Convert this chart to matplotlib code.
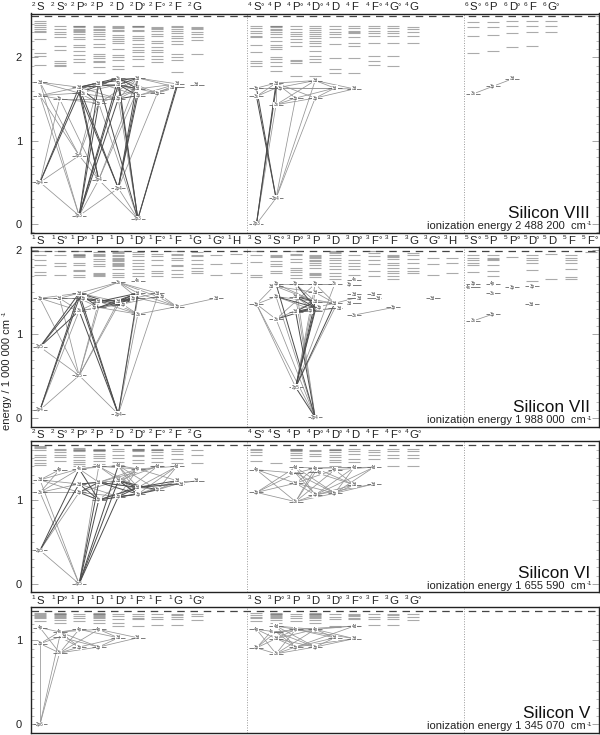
import matplotlib
matplotlib.use("Agg")
import matplotlib.pyplot as plt
from matplotlib.ticker import MultipleLocator

plt.rcParams['font.family'] = ['Liberation Sans', 'DejaVu Sans']

W, H = 600, 735

# Silicon VIII
terms_8 = ["2S", "2So", "2Po", "2P", "2D", "2Do", "2Fo", "2F", "2G",
           "4So", "4P", "4Po", "4Do", "4D", "4F", "4Fo", "4Go", "4G",
           "6So", "6P", "6Do", "6F", "6Go"]
cols_8 = [0, 1, 2, 3, 4, 5, 6, 7, 8, 11, 12, 13, 14, 15, 16, 17, 18, 19, 22, 23, 24, 25, 26]
levels_8 = [
    [2.43, 2.41, 2.39, 2.36, 2.34, 2.32, 2.30, 2.22, 2.05, 2.02, 1.91],
    [2.37, 2.34, 2.30, 2.28, 2.24, 2.14, 2.09, 1.96, 1.93, 1.91, 1.89],
    [2.38, 2.37, 2.36, 2.34, 2.33, 2.31, 2.30, 2.28, 2.24, 2.22, 2.15, 2.12, 2.07, 2.03, 1.98, 1.94, 1.81],
    [2.38, 2.36, 2.34, 2.33, 2.30, 2.28, 2.25, 2.22, 2.16, 2.12, 2.04, 2.01, 1.99, 1.96, 1.94, 1.88, 1.81],
    [2.37, 2.36, 2.35, 2.33, 2.31, 2.27, 2.24, 2.22, 2.19, 2.17, 2.10, 2.03, 2.00, 1.97, 1.89, 1.86],
    [2.38, 2.37, 2.36, 2.33, 2.31, 2.26, 2.23, 2.21, 2.16, 2.12, 2.09, 2.06, 2.02, 1.98, 1.90],
    [2.36, 2.35, 2.34, 2.31, 2.28, 2.26, 2.20, 2.17, 2.12, 2.09, 2.06, 2.02, 1.98, 1.94],
    [2.38, 2.36, 2.34, 2.31, 2.29, 2.25, 2.23, 2.19, 2.16, 2.04, 2.00, 1.97, 1.82],
    [2.36, 2.35, 2.34, 2.30, 2.28, 2.24, 2.21, 2.04],
    [2.37, 2.35, 2.31, 2.29, 2.26, 2.24, 2.15, 2.06, 1.96, 1.93, 1.89],
    [2.38, 2.37, 2.36, 2.34, 2.33, 2.30, 2.28, 2.24, 2.20, 2.15, 2.12, 2.10, 2.00, 1.98, 1.94, 1.89, 1.84],
    [2.38, 2.34, 2.30, 2.28, 2.25, 2.22, 2.18, 2.14, 1.97, 1.95, 1.93, 1.78],
    [2.38, 2.35, 2.33, 2.30, 2.28, 2.25, 2.23, 2.20, 2.17, 2.14, 2.08, 2.01, 1.98, 1.94, 1.78],
    [2.37, 2.34, 2.30, 2.28, 2.24, 2.16, 1.99, 1.86, 1.81],
    [2.38, 2.35, 2.31, 2.30, 2.29, 2.24, 2.17, 2.14, 1.99, 1.81],
    [2.38, 2.35, 2.32, 2.29, 2.26, 2.17, 2.01, 1.96, 1.91],
    [2.38, 2.35, 2.32, 2.29, 2.26, 2.17, 2.01, 1.90],
    [2.36, 2.34, 2.30, 2.26, 2.17],
    [2.42, 2.36, 2.26, 2.05],
    [2.42, 2.36, 2.27, 2.08],
    [2.43, 2.38, 2.29, 2.12],
    [2.44, 2.38, 2.30, 2.14],
    [2.44, 2.38, 2.30],
]
nodes_8 = [
    (0, 1.70, "3d"), (0, 1.54, "3s"), (0, 0.50, "2p4"), (1, 1.50, "3p"),
    (2, 1.64, "3d"), (2, 1.57, "3s"), (2, 0.82, "2p5"), (2, 0.10, "2p3"),
    (3, 1.69, "3d"), (3, 1.45, "3p"), (3, 0.53, "2p4"),
    (4, 1.75, "3s"), (4, 1.67, "3d"), (4, 1.50, "3p"), (4, 0.43, "2p4"),
    (5, 1.75, "3d"), (5, 1.62, "3d"), (5, 1.54, "3p"), (5, 0.06, "2p3"),
    (6, 1.57, "3p"), (7, 1.68, "3d"), (7, 1.64, "3d"), (8, 1.67, "3d"),
    (11, 1.63, "3p"), (11, 1.53, "3s"), (11, 0.00, "2p3"),
    (12, 1.69, "3d"), (12, 1.63, "3p"), (12, 1.43, "3s"), (12, 0.31, "2p4"),
    (13, 1.51, "3p"), (14, 1.72, "3d"), (14, 1.51, "3p"), (15, 1.63, "3d"), (16, 1.62, "3d"),
    (22, 1.56, "3s"), (23, 1.65, "3p"), (24, 1.74, "3d"),
]
links_8 = [
    (7, 2), (7, 10), (7, 14), (7, 0), (7, 1), (18, 10), (18, 14), (18, 9), (18, 13),
    (6, 2), (6, 10), (6, 0), (6, 1), (6, 8), (6, 9), (2, 3), (10, 3), (10, 15), (10, 16), (14, 19),
    (0, 4), (0, 5), (1, 4), (1, 5), (1, 3), (3, 9), (3, 13), (4, 13), (5, 8), (5, 9), (5, 12), (5, 13),
    (8, 16), (8, 17), (9, 16), (9, 15), (11, 15), (11, 17), (11, 19), (12, 19), (13, 16), (13, 15),
    (16, 20), (17, 20), (17, 21), (19, 20), (19, 21), (15, 20), (15, 21),
    (23, 26), (23, 27), (24, 26), (24, 27), (26, 30), (26, 31), (26, 32), (27, 31), (27, 33),
    (28, 30), (28, 32), (28, 31), (28, 26), (29, 30), (29, 31), (29, 32), (25, 28), (25, 29),
    (31, 33), (31, 34), (32, 33), (32, 34), (27, 34), (30, 33),
    (35, 36), (36, 37),
]
strong_8 = [
    (7, 8), (7, 9), (7, 11), (7, 12), (7, 13), (18, 8), (18, 12), (18, 20), (18, 21), (18, 11),
    (2, 4), (2, 5), (10, 4), (10, 5), (14, 4), (14, 5), (14, 15), (14, 16), (14, 17),
    (4, 8), (4, 9), (4, 11), (4, 12), (5, 11), (8, 15), (11, 16), (12, 15), (12, 16), (12, 17), (13, 17),
    (25, 26), (25, 27), (29, 23), (29, 24),
]

# Silicon VII
terms_7 = ["1S", "1So", "1Po", "1P", "1D", "1Do", "1Fo", "1F", "1G", "1Go", "1H",
           "3S", "3So", "3Po", "3P", "3D", "3Do", "3Fo", "3F", "3G", "3Go", "3H",
           "5So", "5P", "5Po", "5Do", "5D", "5F", "5Fo"]
cols_7 = list(range(29))
levels_7 = [
    [1.99, 1.95, 1.89, 1.82, 1.74, 1.71],
    [1.99, 1.95, 1.85, 1.81, 1.71],
    [1.99, 1.96, 1.95, 1.94, 1.93, 1.92, 1.85, 1.83, 1.77, 1.75, 1.71, 1.68],
    [1.98, 1.96, 1.95, 1.93, 1.90, 1.87, 1.84, 1.81, 1.73, 1.72, 1.71, 1.69],
    [1.99, 1.98, 1.97, 1.95, 1.93, 1.91, 1.90, 1.88, 1.87, 1.85, 1.84, 1.82, 1.81, 1.78, 1.73, 1.71, 1.68],
    [1.98, 1.96, 1.93, 1.89, 1.85, 1.81, 1.78, 1.73, 1.70],
    [1.96, 1.93, 1.89, 1.82, 1.75, 1.73, 1.70],
    [1.99, 1.96, 1.94, 1.91, 1.88, 1.83, 1.81, 1.77, 1.72, 1.68],
    [1.98, 1.95, 1.93, 1.88, 1.84, 1.79, 1.75, 1.73],
    [1.95, 1.84, 1.71],
    [1.96, 1.85, 1.73],
    [1.99, 1.94, 1.86, 1.71, 1.68],
    [1.94, 1.93, 1.92, 1.87, 1.84, 1.81, 1.75, 1.73],
    [1.99, 1.96, 1.94, 1.90, 1.86, 1.79, 1.77, 1.74, 1.71, 1.67],
    [1.94, 1.93, 1.92, 1.91, 1.88, 1.87, 1.85, 1.82, 1.79, 1.73, 1.72, 1.71, 1.68],
    [1.99, 1.98, 1.97, 1.94, 1.91, 1.88, 1.85, 1.81, 1.78, 1.73, 1.70, 1.66],
    [1.94, 1.89, 1.85, 1.81, 1.78, 1.71],
    [1.99, 1.97, 1.93, 1.89, 1.84, 1.75, 1.70],
    [1.94, 1.93, 1.92, 1.90, 1.85, 1.82, 1.79, 1.76, 1.73, 1.69, 1.66],
    [1.97, 1.94, 1.90, 1.85, 1.79, 1.76, 1.73],
    [1.91, 1.84, 1.71],
    [1.91, 1.85, 1.73],
    [1.94, 1.91, 1.88, 1.85, 1.83, 1.74],
    [1.94, 1.91, 1.90, 1.88, 1.83, 1.76, 1.69],
    [1.92],
    [1.94, 1.91, 1.88, 1.85, 1.77, 1.64],
    [1.96, 1.66],
    [1.94, 1.91, 1.88, 1.85, 1.78, 1.68, 1.66],
    [1.98],
]
nodes_7 = [
    (0, 1.43, "3p"), (0, 0.85, "2p5"), (0, 0.10, "2p4"), (1, 1.43, "3d"),
    (2, 1.49, "3d"), (2, 1.43, "3p"), (2, 1.28, "3s"), (2, 0.51, "2p5"),
    (3, 1.39, "3d"), (3, 1.32, "3p"),
    (4, 1.62, "3s"), (4, 1.39, "3d"), (4, 1.35, "3p"), (4, 0.05, "2p4"),
    (5, 1.64, "4s"), (5, 1.49, "3d"), (5, 1.43, "3p"), (5, 1.24, "3s"),
    (6, 1.49, "3d"), (6, 1.45, "3p"), (7, 1.33, "3p"), (9, 1.43, "3d"),
    (11, 1.36, "3p"), (12, 1.60, "3p"), (12, 1.57, "3d"), (12, 1.45, "3p"), (12, 1.18, "3s"),
    (13, 1.60, "3p"), (13, 1.45, "3d"), (13, 1.27, "3d"), (13, 0.37, "2p5"),
    (14, 1.60, "3p"), (14, 1.50, "3d"), (14, 1.39, "3d"), (14, 1.32, "3p"), (14, 1.28, "3p"), (14, 0.01, "2p4"),
    (15, 1.60, "3s"), (15, 1.37, "3d"), (15, 1.31, "3d"),
    (16, 1.65, "4s"), (16, 1.59, "3p"), (16, 1.48, "3d"), (16, 1.43, "3d"), (16, 1.37, "3d"), (16, 1.23, "3s"),
    (17, 1.48, "3d"), (17, 1.43, "3d"), (18, 1.32, "3p"), (20, 1.43, "3d"),
    (22, 1.60, "3p"), (22, 1.56, "4s"), (22, 1.16, "3s"),
    (23, 1.60, "4p"), (23, 1.49, "3s"), (23, 1.24, "3p"), (24, 1.56, "3p"),
    (25, 1.57, "3p"), (25, 1.36, "3d"),
]
links_7 = [
    (2, 7), (2, 6), (1, 7), (0, 7), (0, 4), (0, 5), (0, 6), (7, 3), (7, 8), (7, 9), (7, 11), (7, 12), (7, 13),
    (13, 16), (13, 17), (13, 19), (3, 4), (3, 5), (3, 6), (4, 8), (4, 10), (4, 11), (5, 9), (5, 10), (5, 12),
    (6, 8), (6, 9), (6, 12), (8, 17), (9, 17), (10, 15), (10, 16), (10, 18), (10, 19), (11, 17), (11, 18),
    (12, 17), (12, 19), (18, 20), (19, 20), (15, 20), (16, 20), (17, 20), (20, 21),
    (36, 22), (36, 25), (36, 26), (36, 27), (36, 28), (30, 22), (30, 31), (30, 32), (30, 37), (30, 39),
    (22, 26), (22, 25), (22, 23), (26, 31), (26, 33), (23, 31), (23, 33), (24, 32), (24, 33), (25, 33),
    (25, 35), (27, 33), (27, 37), (28, 35), (28, 38), (29, 38), (29, 39), (31, 37), (31, 38), (32, 38),
    (33, 38), (38, 43), (39, 35), (45, 48), (52, 55),
]
strong_7 = [
    (2, 4), (2, 5), (1, 4), (1, 5), (1, 6), (13, 4), (13, 5), (13, 6), (13, 15), (4, 9), (4, 12),
    (5, 8), (5, 11), (8, 15), (8, 16), (9, 15), (9, 16), (11, 15), (11, 16), (12, 15), (12, 16),
    (36, 23), (36, 29), (36, 30), (30, 33), (30, 34), (30, 35), (30, 38), (26, 34), (25, 34),
    (27, 34), (28, 33), (28, 34), (29, 33), (29, 34), (29, 35),
]

# Silicon VI
terms_6 = ["2S", "2So", "2Po", "2P", "2D", "2Do", "2Fo", "2F", "2G",
           "4So", "4S", "4P", "4Po", "4Do", "4D", "4F", "4Fo", "4Go"]
cols_6 = [0, 1, 2, 3, 4, 5, 6, 7, 8, 11, 12, 13, 14, 15, 16, 17, 18, 19]
levels_6 = [
    [1.64, 1.63, 1.62, 1.60, 1.54, 1.51, 1.48, 1.44, 1.42],
    [1.61, 1.59, 1.57, 1.54, 1.51, 1.47],
    [1.62, 1.61, 1.60, 1.59, 1.58, 1.54, 1.51, 1.48, 1.45, 1.43, 1.41],
    [1.61, 1.60, 1.595, 1.59, 1.58, 1.55, 1.52, 1.50, 1.46, 1.43],
    [1.61, 1.58, 1.54, 1.50, 1.45, 1.42],
    [1.61, 1.605, 1.60, 1.59, 1.58, 1.54, 1.52, 1.48, 1.44],
    [1.61, 1.60, 1.59, 1.57, 1.54, 1.50, 1.45, 1.41],
    [1.61, 1.58, 1.55, 1.49, 1.44],
    [1.59, 1.54, 1.44],
    [1.61, 1.59, 1.57, 1.54, 1.47],
    [1.44],
    [1.61, 1.605, 1.60, 1.59, 1.58, 1.56, 1.53, 1.50, 1.46],
    [1.60, 1.58, 1.55, 1.52, 1.47],
    [1.61, 1.60, 1.59, 1.57, 1.54, 1.51, 1.48, 1.45, 1.41],
    [1.61, 1.58, 1.55, 1.49, 1.45],
    [1.59, 1.57, 1.54, 1.49],
    [1.61, 1.58, 1.54, 1.50, 1.41],
    [1.61, 1.58, 1.54, 1.50, 1.41],
]
nodes_6 = [
    (0, 1.24, "3d"), (0, 1.09, "3s"), (0, 0.40, "2p5"), (1, 1.36, "4p"),
    (2, 1.37, "4s"), (2, 1.19, "3d"), (2, 1.09, "3p"), (2, 0.00, "2p5"),
    (3, 1.40, "4d"), (3, 1.21, "3d"), (3, 1.00, "3p"),
    (4, 1.41, "4d"), (4, 1.23, "3d"), (4, 1.04, "3p"),
    (5, 1.37, "4p"), (5, 1.15, "3d"), (5, 1.07, "3p"),
    (6, 1.40, "4d"), (6, 1.12, "3p"),
    (7, 1.40, "4d"), (7, 1.23, "3d"), (7, 1.19, "3d"), (8, 1.23, "3d"),
    (11, 1.36, "4p"), (11, 1.09, "3p"),
    (13, 1.39, "4d"), (13, 1.32, "4s"), (13, 1.20, "3d"), (13, 0.98, "3s"),
    (14, 1.38, "4p"), (14, 1.33, "4p"), (14, 1.06, "3p"),
    (15, 1.36, "4p"), (15, 1.08, "3p"),
    (16, 1.39, "4d"), (16, 1.18, "3d"), (17, 1.39, "4d"), (17, 1.19, "3d"),
]
links_6 = [
    (7, 0), (7, 1), (7, 2), (7, 8), (2, 6), (0, 5), (0, 6), (1, 5), (1, 6), (0, 4), (1, 4), (3, 0), (3, 1),
    (4, 8), (4, 9), (4, 11), (5, 12), (5, 13), (6, 12), (6, 13), (8, 14), (8, 15), (8, 16), (9, 14), (9, 18),
    (10, 14), (10, 15), (10, 16), (11, 14), (11, 15), (11, 16), (11, 18), (12, 14), (13, 14),
    (14, 19), (14, 20), (15, 19), (15, 21), (16, 19), (16, 20), (16, 21), (17, 9), (17, 12), (17, 13), (18, 19),
    (18, 20), (18, 21), (20, 22), (21, 22),
    (23, 28), (23, 27), (24, 26), (24, 25), (24, 27), (24, 28), (23, 26),
    (28, 29), (28, 31), (28, 32), (28, 33), (28, 30), (27, 31), (27, 33), (27, 29), (27, 32),
    (26, 29), (26, 31), (26, 33), (25, 31), (25, 33), (25, 29), (29, 34), (29, 35), (29, 36),
    (31, 34), (31, 35), (31, 36), (33, 34), (33, 35), (33, 36), (33, 37), (32, 35), (32, 36), (31, 37), (30, 35),
]
strong_6 = [
    (2, 4), (2, 5), (7, 9), (7, 10), (7, 11), (7, 12), (7, 13), (5, 9), (5, 10), (6, 9), (6, 10),
    (4, 10), (9, 15), (9, 16), (10, 15), (10, 16), (12, 15), (12, 16), (13, 15), (13, 16),
    (15, 20), (15, 21), (16, 18), (12, 18),
]

# Silicon V
terms_5 = ["1S", "1Po", "1P", "1D", "1Do", "1Fo", "1F", "1G", "1Go",
           "3S", "3Po", "3P", "3D", "3Do", "3Fo", "3F", "3G", "3Go"]
cols_5 = [0, 1, 2, 3, 4, 5, 6, 7, 8, 11, 12, 13, 14, 15, 16, 17, 18, 19]
levels_5 = [
    [1.32, 1.31, 1.30, 1.29, 1.28, 1.26, 1.23],
    [1.32, 1.315, 1.31, 1.30, 1.29, 1.28, 1.26, 1.24, 1.21],
    [1.31, 1.29, 1.26, 1.23],
    [1.32, 1.315, 1.31, 1.30, 1.29, 1.28, 1.26, 1.24, 1.21],
    [1.31, 1.29, 1.25, 1.21, 1.17],
    [1.31, 1.29, 1.27, 1.25, 1.17],
    [1.31, 1.28, 1.25, 1.18],
    [1.31, 1.30, 1.28, 1.25, 1.18],
    [1.31, 1.29, 1.24],
    [1.32, 1.30, 1.28, 1.26, 1.23],
    [1.32, 1.315, 1.31, 1.30, 1.29, 1.28, 1.26, 1.24, 1.21],
    [1.31, 1.29, 1.26, 1.23],
    [1.32, 1.315, 1.31, 1.30, 1.29, 1.28, 1.26, 1.24, 1.21],
    [1.31, 1.28, 1.25, 1.17, 1.16],
    [1.31, 1.30, 1.29, 1.27, 1.25, 1.17],
    [1.31, 1.28, 1.25, 1.18],
    [1.31, 1.30, 1.28, 1.25, 1.18],
    [1.31, 1.28, 1.24],
]
nodes_5 = [
    (0, 1.15, "4p"), (0, 0.96, "3p"), (0, 0.00, "2p6"),
    (1, 1.10, "4s"), (1, 1.04, "3d"), (1, 0.85, "3s"),
    (2, 1.13, "4p"), (2, 0.92, "3p"), (3, 1.13, "4p"), (3, 0.92, "3p"),
    (4, 1.03, "3d"), (5, 1.03, "3d"),
    (11, 1.13, "4p"), (11, 0.91, "3p"),
    (12, 1.17, "4d"), (12, 1.10, "4s"), (12, 1.02, "3d"), (12, 0.84, "3s"),
    (13, 1.13, "4p"), (13, 0.92, "3p"), (14, 1.13, "4p"), (14, 0.92, "3p"),
    (15, 1.03, "3d"), (16, 1.17, "4d"), (16, 1.02, "3d"),
]
links_5 = [
    (2, 4), (2, 5), (2, 1), (0, 3), (0, 5), (1, 4), (1, 5), (1, 3),
    (3, 6), (3, 7), (3, 8), (3, 9), (4, 7), (4, 9), (5, 6), (5, 7), (5, 8), (5, 9),
    (7, 10), (9, 10), (9, 11), (8, 10), (8, 11), (6, 10),
    (12, 15), (12, 16), (12, 17), (13, 14), (13, 15), (13, 16), (13, 17),
    (17, 18), (17, 19), (17, 20), (17, 21), (16, 18), (16, 19), (16, 21), (16, 20),
    (15, 18), (15, 19), (15, 20), (15, 21), (14, 18), (14, 19), (14, 20), (14, 21),
    (18, 22), (18, 23), (18, 24), (19, 22), (19, 24), (20, 22), (20, 23), (21, 22), (21, 24), (20, 24), (19, 23),
]
strong_5 = []

titles = ["Silicon VIII", "Silicon VII", "Silicon VI", "Silicon V"]
ion_labels = ["2 488 200", "1 988 000", "1 655 590", "1 345 070"]
ion_energy = [2.4882, 1.988, 1.6556, 1.3451]

# pixel box top/bottom and y limits per panel
boxes = [(13.5, 232.5), (247, 426.7), (440.7, 592.3), (606.7, 732.7)]
ylims = [(-0.102, 2.524), (-0.10, 2.04), (-0.10, 1.706), (-0.10, 1.40)]
yticks = [[0, 1, 2], [0, 1, 2], [0, 1], [0, 1]]
X_LEFT, X_RIGHT = 30.5, 598.5


def col_x(c):
    # columns are not quite evenly spaced between the three groups
    off = 0.0
    if c >= 11:
        off = 1.2
    if c >= 22:
        off = 2.6
    return 40 + 19.57 * c + off


def term_label(ax, x, term):
    tr = ax.get_xaxis_transform()
    kw = dict(xycoords=tr, textcoords='offset points', va='baseline', ha='center',
              color='#222222', annotation_clip=False)
    ax.annotate(term[1], (x, 1.0), xytext=(0.3, 2.2), fontsize=8.2, **kw)
    ax.annotate(term[0], (x, 1.0), xytext=(-4.8, 5.4), fontsize=4.6, **kw)
    if term.endswith('o'):
        ax.annotate('\u00b0', (x, 1.0), xytext=(4.2, 2.6), fontsize=6.2, **kw)


def draw_panel(ax, i, terms, cols, levels, nodes, links, strong):
    ax.set_xlim(X_LEFT, X_RIGHT)
    ax.set_ylim(*ylims[i])
    ax.set_xticks([])
    ax.set_yticks(yticks[i])
    ax.yaxis.set_minor_locator(MultipleLocator(0.1))
    ax.tick_params(axis='y', which='major', direction='in', left=True, right=True, length=5,
                   width=0.4, color='#666666', labelsize=8, pad=6, labelcolor='#222222')
    ax.tick_params(axis='y', which='minor', direction='in', left=True, right=True, length=2.4,
                   width=0.4, color='#888888')
    for s in ax.spines.values():
        s.set_linewidth(1.0)
        s.set_color('#222222')

    # ionization limit
    ax.hlines(ion_energy[i], X_LEFT, X_RIGHT, color='#444444', lw=0.9,
              linestyles=[(0, (6.0, 4.6))], zorder=2)
    # dividers between the spin systems
    for xd in [246.6, 463.5]:
        ax.axvline(xd, color='#999999', lw=0.7, ls=(0, (1, 1.6)), zorder=1)

    for term, c, lv in zip(terms, cols, levels):
        x = col_x(c)
        term_label(ax, x, term)
        ax.hlines(lv, x - 6, x + 6, color='#666666', lw=0.8, alpha=0.55, zorder=2)

    for a, b in links:
        ax.plot([col_x(nodes[a][0]), col_x(nodes[b][0])], [nodes[a][1], nodes[b][1]],
                color='#949494', lw=0.55, zorder=3)
    for a, b in strong:
        ax.plot([col_x(nodes[a][0]), col_x(nodes[b][0])], [nodes[a][1], nodes[b][1]],
                color='#4c4c4c', lw=0.7, zorder=4)

    # close levels in one column get their labels pushed apart sideways
    prev = None
    side = 1
    for c, e, lab in nodes:
        x = col_x(c)
        ax.hlines(e, x - 7, x + 7, color='#666666', lw=0.6, zorder=5)
        dx = 0
        if prev is not None and prev[0] == c and abs(prev[1] - e) < 0.075:
            dx = 4.6 * side
            side = -side
        prev = (c, e)
        ax.text(x + dx, e, lab, fontsize=3.3, color='#444444', ha='center', va='center', zorder=6,
                bbox=dict(fc='white', ec='none', pad=0.2))

    ax.text(590, ylims[i][0] + 14.5 / 84, titles[i], ha='right', va='baseline', fontsize=12.4, color='#111111')
    ax.text(586, ylims[i][0] + 3.6 / 84, "ionization energy " + ion_labels[i] + "  cm",
            ha='right', va='baseline', fontsize=8, color='#222222')
    ax.text(586.3, ylims[i][0] + 7.2 / 84, "-1", ha='left', va='baseline', fontsize=4.4, color='#222222')


fig = plt.figure(figsize=(W / 100, H / 100), dpi=100)
panels = [
    (terms_8, cols_8, levels_8, nodes_8, links_8, strong_8),
    (terms_7, cols_7, levels_7, nodes_7, links_7, strong_7),
    (terms_6, cols_6, levels_6, nodes_6, links_6, strong_6),
    (terms_5, cols_5, levels_5, nodes_5, links_5, strong_5),
]
for i, p in enumerate(panels):
    top, bot = boxes[i]
    ax = fig.add_axes([X_LEFT / W, 1 - bot / H, (X_RIGHT - X_LEFT) / W, (bot - top) / H])
    draw_panel(ax, i, *p)

fig.text(7.5 / W, 1 - 374 / H, "energy / 1 000 000 cm", rotation=90, ha='center', va='center',
         fontsize=8, color='#222222')
fig.text(4.5 / W, 1 - 316 / H, "-1", rotation=90, ha='center', va='bottom', fontsize=4.4, color='#222222')

fig.savefig("out.png", dpi=100)
